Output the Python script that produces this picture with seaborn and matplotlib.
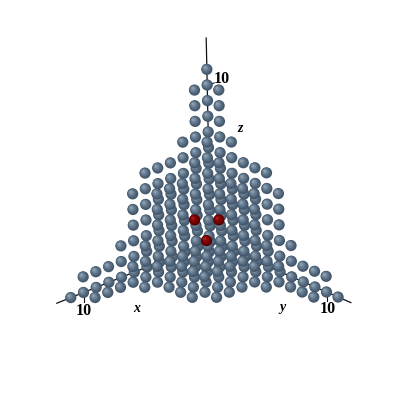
import itertools

import matplotlib
matplotlib.use("Agg")
import matplotlib.pyplot as plt
import pandas as pd
import seaborn as sns

# largest third coordinate per second coordinate
wall_0 = [11, 10, 7, 6, 6, 6, 5, 2, 1, 1, 1, 0]  # smallest coordinate 0
wall_1 = [10, 7, 6, 5, 5, 5, 2, 1, 0, 0, 0]      # smallest coordinate 1
red_points = [(3, 3, 2), (3, 2, 3), (2, 3, 3)]
axis_tick = 10

walls = {0: wall_0, 1: wall_1}

# isometric-ish projection, pixels per unit
ORIGIN = (210.5, 241.5)
X_DIR = (-12.7, 5.1)
Y_DIR = (11.6, 5.05)
Z_DIR = (-0.33, -15.65)


def project(x, y, z):
    return (ORIGIN[0] + x * X_DIR[0] + y * Y_DIR[0] + z * Z_DIR[0],
            ORIGIN[1] + x * X_DIR[1] + y * Y_DIR[1] + z * Z_DIR[1])


points = []
for p in itertools.product(range(12), repeat=3):
    a, b, c = sorted(p)
    if a in walls and b < len(walls[a]) and c <= walls[a][b]:
        points.append((*p, "s"))
for p in red_points:
    points.append((*p, "r"))

# sphere shading: stacked discs, radius fraction and highlight shift
steps = [(1.0, 0.0), (0.86, 0.12), (0.68, 0.24), (0.48, 0.34), (0.26, 0.44)]
slate = ["#43566a", "#4f6378", "#5f7489", "#71879b", "#8b9fb1"]
maroon = ["#500000", "#6a0000", "#7c0000", "#8c0808", "#9c2020"]
RADIUS = 5.6

rows = []
for x, y, z, kind in sorted(points, key=lambda q: q[0] + q[1] + q[2]):
    px, py = project(x, y, z)
    for i, (frac, shift) in enumerate(steps):
        rows.append({"px": px - shift * RADIUS * 0.7, "py": py - shift * RADIUS * 0.7,
                     "layer": f"{kind}{i}"})
df = pd.DataFrame(rows)

palette = {}
sizes = {}
for i, (frac, shift) in enumerate(steps):
    palette[f"s{i}"] = slate[i]
    palette[f"r{i}"] = maroon[i]
    sizes[f"s{i}"] = sizes[f"r{i}"] = (2 * RADIUS * frac * 0.72) ** 2

fig = plt.figure(figsize=(4, 4), dpi=100)
ax = fig.add_axes([0, 0, 1, 1])

# axes lines
for end in [(12.1, 0, 0), (0, 12.1, 0), (0, 0, 13)]:
    (x0, y0), (x1, y1) = project(0, 0, 0), project(*end)
    ax.plot([x0, x1], [y0, y1], color="#111111", lw=0.9, zorder=1)

# ticks at 10
tx, ty = project(axis_tick, 0, 0)
ax.plot([tx, tx], [ty, ty + 9], color="#111111", lw=0.8, zorder=1)
tx, ty = project(0, axis_tick, 0)
ax.plot([tx, tx], [ty, ty + 9], color="#111111", lw=0.8, zorder=1)
tx, ty = project(0, 0, axis_tick)
ax.plot([tx, tx + 7], [ty, ty - 2], color="#111111", lw=0.8, zorder=1)

sns.scatterplot(data=df, x="px", y="py", hue="layer", size="layer", palette=palette,
                sizes=sizes, linewidth=0, legend=False, ax=ax, zorder=2)
ax.set_xlim(0, 400)
ax.set_ylim(400, 0)
ax.axis("off")

label_font = dict(family="Liberation Serif", fontweight="bold", color="black",
                  ha="center", va="center", zorder=3)
ax.text(84, 311, "10", fontsize=11.5, **label_font)
ax.text(328, 309, "10", fontsize=11.5, **label_font)
ax.text(222, 79, "10", fontsize=11.5, **label_font)
ax.text(137, 309, "x", fontsize=10, style="italic", **label_font)
ax.text(282, 308, "y", fontsize=10, style="italic", **label_font)
ax.text(240, 128, "z", fontsize=10, style="italic", **label_font)

fig.savefig("out.png", dpi=100)
